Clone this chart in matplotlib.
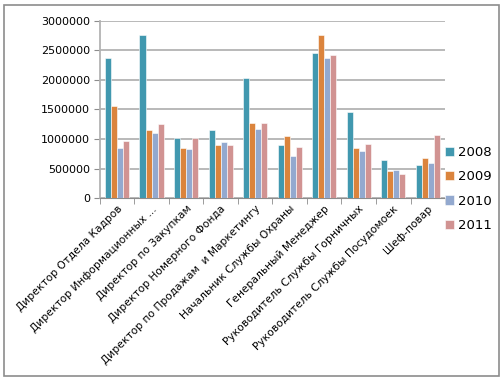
import matplotlib.pyplot as plt
import numpy as np
from matplotlib.patches import Rectangle

# categories and series
positions = ['Директор Отдела Кадров', 'Директор Информационных ...',
             'Директор по Закупкам', 'Директор Номерного Фонда',
             'Директор по Продажам  и Маркетингу', 'Начальник Службы Охраны',
             'Генеральный Менеджер', 'Руководитель Службы Горничных',
             'Руководитель Службы Посудомоек', 'Шеф-повар']
years = ['2008', '2009', '2010', '2011']
v2008 = [2375000, 2758000, 1013000, 1159000, 2035000, 895000, 2460000, 1463000, 642000, 557000]
v2009 = [1554000, 1159000, 845000, 895000, 1267000, 1047000, 2758000, 850000, 456000, 676000]
v2010 = [845000, 1098000, 828000, 956000, 1176000, 715000, 2375000, 794000, 478000, 591000]
v2011 = [963000, 1250000, 1013000, 895000, 1267000, 867000, 2426000, 912000, 410000, 1064000]
colors = ['#4198AF', '#DB843D', '#93A9CF', '#D19392']

fig = plt.figure(figsize=(5.04, 3.81), dpi=100)
fig.patches.append(Rectangle((0.008, 0.014), 0.982, 0.972, transform=fig.transFigure,
                             fill=False, edgecolor='#8c8c8c', linewidth=1.2))
ax = fig.add_axes([0.198, 0.480, 0.685, 0.466])

x = np.arange(len(positions))
w = 0.175
for i, (vals, c, yr) in enumerate(zip([v2008, v2009, v2010, v2011], colors, years)):
    ax.bar(x + (i - 1.5) * w, vals, w, color=c, edgecolor='white', linewidth=0.4,
           label=yr, zorder=3)

ax.set_xlim(-0.5, len(positions) - 0.5)
ax.set_ylim(0, 3000000)
ax.set_yticks(np.arange(0, 3000001, 500000))
ax.set_yticklabels([str(v) for v in range(0, 3000001, 500000)], fontsize=8, color='#000000')
ax.yaxis.grid(True, color='#b3b3b3', linewidth=1.3, zorder=0)
ax.tick_params(axis='y', length=4, color='#8c8c8c', pad=3)

ax.set_xticks(x)
ax.set_xticklabels(positions, rotation=45, ha='right', rotation_mode='anchor', fontsize=7.7)
ax.tick_params(axis='x', length=0, pad=4)
ax.set_xticks(np.arange(-0.5, len(positions), 1), minor=True)
ax.tick_params(axis='x', which='minor', length=4, color='#8c8c8c')

for s in ['top', 'right']:
    ax.spines[s].set_visible(False)
ax.spines['left'].set_color('#b3b3b3')
ax.spines['left'].set_linewidth(1.3)
ax.spines['bottom'].set_color('#8c8c8c')

ax.legend(loc='upper left', bbox_to_anchor=(0.98, 0.33), frameon=False, fontsize=9.5,
          handlelength=0.7, handleheight=0.7, handletextpad=0.3, labelspacing=0.85,
          borderpad=0)

fig.savefig('out.png', dpi=100)
